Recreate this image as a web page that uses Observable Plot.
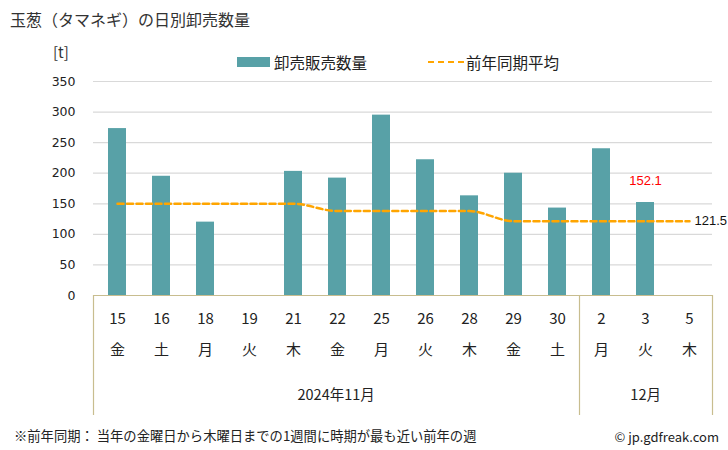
<!DOCTYPE html>
<html>
<head>
<meta charset="utf-8">
<script src="https://cdn.jsdelivr.net/npm/d3@7"></script>
<script src="https://cdn.jsdelivr.net/npm/@observablehq/plot@0.6"></script>
<style>
  body { margin: 0; background: #fff; }
  #wrap { position: relative; width: 728px; height: 450px; overflow: hidden; font-family: "Noto Sans CJK JP", "Noto Sans", sans-serif; color: #222; }
  #wrap svg { position: absolute; left: 0; top: 0; overflow: visible; }
  .abs { position: absolute; white-space: nowrap; }
</style>
</head>
<body>
<div id="wrap">
  <div class="abs" style="left:10px; top:7px; font-size:16px; color:#333;">玉葱（タマネギ）の日別卸売数量</div>
  <div class="abs" style="left:53px; top:41px; font-size:15px; color:#333;">[t]</div>
  <div class="abs" style="left:237px; top:57px; width:33px; height:10px; background:#58a1a7;"></div>
  <div class="abs" style="left:274px; top:51px; font-size:15.5px; color:#222;">卸売販売数量</div>
  <div class="abs" style="left:428px; top:61px; width:36px; height:0; border-top:2px dashed #ffa500;"></div>
  <div class="abs" style="left:466px; top:51px; font-size:15.5px; color:#222;">前年同期平均</div>
  <div class="abs" style="left:14px; top:426px; font-size:13.3px; color:#222;">※前年同期： 当年の金曜日から木曜日までの1週間に時期が最も近い前年の週</div>
  <div class="abs" style="right:9px; top:427px; font-size:13px; color:#222;">© jp.gdfreak.com</div>
</div>
<script>
const days = ["15","16","18","19","21","22","25","26","28","29","30","2","3","5"];
const weekdays = ["金","土","月","火","木","金","月","火","木","金","土","月","火","木"];
const volumes = [273, 195, 120, null, 203, 192, 295, 222, 163, 200, 143, 240, 152.1, null];
const averages = [150, 150, 150, 150, 150, 138, 138, 138, 138, 121.5, 121.5, 121.5, 121.5, 121.5];
const monthLabels = ["2024年11月", "12月"];
const monthCounts = [11, 3];
const yTicks = [0, 50, 100, 150, 200, 250, 300, 350];
const lastVolumeLabel = 12; // index of the labelled bar (152.1)

const rows = days.map((d, i) => ({day: d, wd: weekdays[i], v: volumes[i], avg: averages[i]}));
const barRows = rows.filter(r => r.v != null);

const boxColor = "#c8bd8f";

function axisBox(index, scales, values, dims) {
  const left = dims.marginLeft;
  const right = dims.width - dims.marginRight;
  const y0 = scales.y(0);
  const bottom = dims.height - 35;
  const step = (right - left) / days.length;
  const g = d3.create("svg:g");
  g.append("line").attr("x1", left).attr("x2", right).attr("y1", y0 + 0.5).attr("y2", y0 + 0.5)
    .attr("stroke", boxColor).attr("stroke-width", 1.2);
  let start = 0;
  const bounds = [0];
  monthCounts.forEach(c => { start += c; bounds.push(start); });
  bounds.forEach(b => {
    const xx = Math.round(left + b * step) + 0.5;
    g.append("line").attr("x1", xx).attr("x2", xx).attr("y1", y0).attr("y2", bottom)
      .attr("stroke", boxColor).attr("stroke-width", 1.2);
  });
  monthLabels.forEach((lab, i) => {
    const cx = left + (bounds[i] + bounds[i + 1]) / 2 * step;
    g.append("text").attr("x", cx).attr("y", y0 + 101).attr("text-anchor", "middle")
      .attr("dominant-baseline", "middle").attr("font-size", 14.5).attr("fill", "#222")
      .attr("font-family", '"Noto Sans CJK JP", sans-serif').text(lab);
  });
  return g.node();
}

const chart = Plot.plot({
  width: 728,
  height: 450,
  marginLeft: 93,
  marginRight: 16,
  marginTop: 81,
  marginBottom: 155,
  style: {background: "transparent", fontFamily: '"DejaVu Sans", Verdana, sans-serif'},
  x: {domain: days, paddingInner: 0.6, paddingOuter: 0.3, axis: null},
  y: {domain: [0, 350], axis: null},
  marks: [
    Plot.ruleY(yTicks, {stroke: "#d9d9d9", strokeWidth: 1.2}),
    Plot.text(yTicks, {y: d => d, text: d => String(d), frameAnchor: "left", dx: -18, textAnchor: "end", fontSize: 12.5, fill: "#222"}),
    Plot.barY(barRows, {x: "day", y: "v", fill: "#58a1a7"}),
    Plot.line(rows, {x: "day", y: "avg", stroke: "#ffa500", strokeWidth: 2.5, strokeDasharray: "6,3.5", curve: "monotone-x"}),
    Plot.text([rows[lastVolumeLabel]], {x: "day", y: "v", text: d => String(d.v), dy: -22, fill: "#ff0000", fontSize: 13, fontFamily: '"Liberation Sans", Arial, sans-serif'}),
    Plot.text([rows[rows.length - 1]], {x: "day", y: "avg", text: d => String(d.avg), dx: 5, textAnchor: "start", fill: "#111", fontSize: 13, fontFamily: '"Liberation Sans", Arial, sans-serif'}),
    Plot.text(rows, {x: "day", text: "day", frameAnchor: "bottom", dy: 28, fontSize: 15, fill: "#222", fontFamily: '"Noto Sans CJK JP", sans-serif'}),
    Plot.text(rows, {x: "day", text: "wd", frameAnchor: "bottom", dy: 59, fontSize: 15, fill: "#222", fontFamily: '"Noto Sans CJK JP", sans-serif'}),
    axisBox
  ]
});
document.getElementById("wrap").appendChild(chart);
</script>
</body>
</html>
